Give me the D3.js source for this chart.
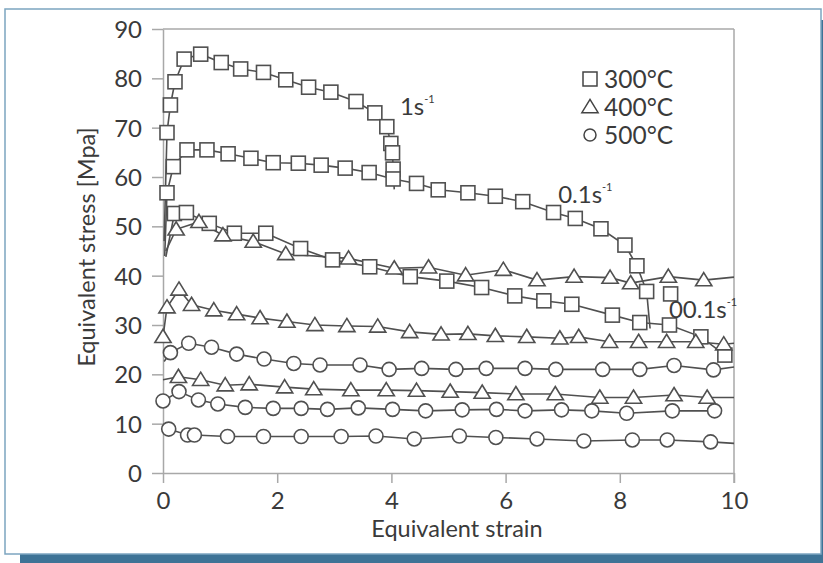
<!DOCTYPE html>
<html>
<head>
<meta charset="utf-8">
<script src="https://cdn.jsdelivr.net/npm/d3@7"></script>
<style>
  body { margin: 0; background: #fff; }
  text { font-family: Lato, "Open Sans", sans-serif; fill: #3a3a3a; }
</style>
</head>
<body>
<div id="chart"></div>
<script>
// data: [strain, stress, marker (1) or bare line point (0)]
var sq_1s = [[0.02,47,0],[0.07,69.0,1],[0.13,74.6,1],[0.21,79.3,1],[0.37,83.9,1],[0.66,84.9,1],[1.02,83.2,1],[1.36,81.9,1],[1.76,81.2,1],[2.15,79.7,1],[2.55,78.2,1],[2.94,77.2,1],[3.38,75.3,1],[3.71,73.0,1],[3.92,70.2,1],[3.99,66.8,1],[4.02,64.9,1],[4.03,61.6,1],[4.05,57.5,0]];
var sq_01s = [[0.03,44,0],[0.07,56.8,1],[0.18,62.1,1],[0.42,65.5,1],[0.77,65.5,1],[1.14,64.7,1],[1.54,63.8,1],[1.93,62.9,1],[2.37,62.8,1],[2.77,62.4,1],[3.19,61.8,1],[3.61,60.9,1],[4.03,59.6,1],[4.44,58.7,1],[4.82,57.4,1],[5.34,56.8,1],[5.82,56.1,1],[6.30,55.0,1],[6.84,52.8,1],[7.22,51.6,1],[7.67,49.5,1],[8.09,46.2,1],[8.30,42.0,1],[8.47,36.8,1],[8.53,29.3,0]];
var sq_001s = [[0.05,43.8,0],[0.2,52.6,1],[0.41,52.8,1],[0.81,50.6,1],[1.25,48.6,1],[1.8,48.6,1],[2.41,45.5,1],[2.97,43.2,1],[3.62,41.8,1],[4.33,39.8,1],[4.97,38.9,1],[5.58,37.6,1],[6.16,35.9,1],[6.67,34.9,1],[7.16,34.2,1],[7.87,32.0,1],[8.35,30.5,1],[8.87,30.0,1],[9.42,27.6,1],[9.84,23.9,1]];
var sq_stray = [[8.89,36.3,1]];

var tri_1s = [[0.05,45,0],[0.23,49.4,1],[0.63,50.9,1],[1.05,48.2,1],[1.58,46.9,1],[2.15,44.4,1],[3.25,43.5,1],[4.05,41.5,1],[4.65,41.7,1],[5.3,40.1,1],[5.96,41.2,1],[6.55,39.1,1],[7.2,39.8,1],[7.83,39.6,1],[8.19,38.5,1],[8.85,39.8,1],[9.47,39.1,1],[10.0,39.7,0]];
var tri_01s = [[0.0,27.6,1],[0.07,33.6,1],[0.28,37.2,1],[0.5,34.1,1],[0.89,33.0,1],[1.29,32.2,1],[1.7,31.4,1],[2.17,30.7,1],[2.66,30.0,1],[3.22,29.8,1],[3.76,29.7,1],[4.32,28.6,1],[4.87,28.1,1],[5.34,28.2,1],[5.82,27.8,1],[6.37,27.6,1],[6.95,27.3,1],[7.28,27.6,1],[7.82,26.6,1],[8.33,26.6,1],[8.82,26.6,1],[9.33,26.6,1],[9.82,26.1,1],[10.0,26.3,0]];
var tri_001s = [[0.0,18.9,0],[0.27,19.5,1],[0.66,18.9,1],[1.09,17.8,1],[1.51,18.0,1],[2.13,17.4,1],[2.64,17.0,1],[3.29,16.8,1],[3.91,16.8,1],[4.44,16.7,1],[5.03,16.5,1],[5.59,16.3,1],[6.18,16.0,1],[6.87,16.0,1],[7.65,15.3,1],[8.24,15.3,1],[8.95,15.8,1],[9.53,15.3,1],[10.0,15.3,0]];

var circ_1s = [[0.02,22.6,0],[0.13,24.4,1],[0.45,26.3,1],[0.85,25.5,1],[1.29,24.1,1],[1.77,23.1,1],[2.29,22.2,1],[2.75,21.9,1],[3.45,21.9,1],[3.96,21.0,1],[4.53,21.2,1],[5.13,21.0,1],[5.66,21.2,1],[6.34,21.2,1],[6.88,21.0,1],[7.7,21.0,1],[8.35,21.0,1],[8.95,21.8,1],[9.64,20.9,1],[10.0,21.5,0]];
var circ_01s = [[0.0,14.6,1],[0.28,16.5,1],[0.62,14.8,1],[0.96,14.0,1],[1.44,13.3,1],[1.93,13.1,1],[2.42,13.1,1],[2.88,12.9,1],[3.42,13.2,1],[4.02,12.9,1],[4.6,12.6,1],[5.24,12.8,1],[5.84,12.9,1],[6.34,12.6,1],[6.98,12.8,1],[7.51,12.6,1],[8.12,12.1,1],[8.92,12.6,1],[9.66,12.6,1]];
var circ_001s = [[0.0,9.3,0],[0.1,8.9,1],[0.43,7.7,1],[0.55,7.7,1],[1.13,7.4,1],[1.76,7.4,1],[2.42,7.4,1],[3.12,7.4,1],[3.73,7.5,1],[4.4,6.9,1],[5.19,7.5,1],[5.83,7.2,1],[6.55,6.9,1],[7.37,6.5,1],[8.22,6.7,1],[8.83,6.7,1],[9.59,6.3,1],[10.0,6.0,0]];

var xTicks = [0, 2, 4, 6, 8, 10];
var yTicks = [0, 10, 20, 30, 40, 50, 60, 70, 80, 90];
var legendLabels = ["300°C", "400°C", "500°C"];
var legendShapes = ["square", "triangle", "circle"];
var rateLabels = [["1s", 4.15, 72.6], ["0.1s", 6.92, 54.7], ["00.1s", 8.86, 31.4]];

var W = 823, H = 563;
var svg = d3.select("#chart").append("svg").attr("width", W).attr("height", H);

// frame with a drop shadow
svg.append("rect").attr("x", 20).attr("y", 20).attr("width", W - 20).attr("height", H - 20).attr("fill", "#3e7396");
svg.append("rect").attr("x", 5).attr("y", 9).attr("width", 816).attr("height", 545)
	.attr("fill", "#fff").attr("stroke", "#7ca5c0").attr("stroke-width", 1.5);

var x = d3.scaleLinear().domain([0, 10]).range([163, 734]);
var y = d3.scaleLinear().domain([0, 90]).range([473, 29]);
var axisCol = "#a8a8a8", lineCol = "#505050";

// y axis
var gy = svg.append("g").attr("transform", "translate(" + x(0) + ",0)")
	.call(d3.axisLeft(y).tickValues(yTicks).tickSize(11).tickSizeOuter(0).tickPadding(10));
// x axis
var gx = svg.append("g").attr("transform", "translate(0," + y(0) + ")")
	.call(d3.axisBottom(x).tickValues(xTicks).tickSize(10).tickSizeOuter(0).tickPadding(9));
[gx, gy].forEach(function(g) {
	g.selectAll("path, line").attr("stroke", axisCol).attr("stroke-width", 1.5);
	g.selectAll("text").style("font-size", "24px").attr("fill", "#3a3a3a");
});
gy.selectAll("text").attr("dy", "0.36em");
// box on top and right
svg.append("line").attr("x1", x(0)).attr("x2", x(10)).attr("y1", y(90)).attr("y2", y(90))
	.attr("stroke", axisCol).attr("stroke-width", 1.5);
svg.append("line").attr("x1", x(10)).attr("x2", x(10)).attr("y1", y(90)).attr("y2", y(0) + 10)
	.attr("stroke", axisCol).attr("stroke-width", 1.5);

// axis titles
svg.append("text").attr("transform", "translate(95,247) rotate(-90)")
	.attr("text-anchor", "middle").style("font-size", "23.5px").text("Equivalent stress [Mpa]");
svg.append("text").attr("x", 457).attr("y", 537)
	.attr("text-anchor", "middle").style("font-size", "23.5px").text("Equivalent strain");

// markers
function marker(g, shape, cx, cy, s) {
	if (shape == "square") {
		g.append("rect").attr("x", cx - s / 2).attr("y", cy - s / 2).attr("width", s).attr("height", s);
	} else if (shape == "triangle") {
		var h = s * 0.9;
		g.append("path").attr("d", "M" + cx + "," + (cy - h * 0.6) + "L" + (cx + s * 0.58) + "," + (cy + h * 0.45)
			+ "L" + (cx - s * 0.58) + "," + (cy + h * 0.45) + "Z");
	} else {
		g.append("circle").attr("cx", cx).attr("cy", cy).attr("r", s / 2);
	}
}

var line = d3.line().x(function(d) { return x(d[0]); }).y(function(d) { return y(d[1]); });
var series = [
	[sq_1s, "square"], [sq_01s, "square"], [sq_001s, "square"], [sq_stray, "square"],
	[tri_1s, "triangle"], [tri_01s, "triangle"], [tri_001s, "triangle"],
	[circ_1s, "circle"], [circ_01s, "circle"], [circ_001s, "circle"]
];
series.forEach(function(s) {
	if (s[0].length > 1)
		svg.append("path").datum(s[0]).attr("d", line)
			.attr("fill", "none").attr("stroke", lineCol).attr("stroke-width", 1.6);
});
series.forEach(function(s) {
	var g = svg.append("g").attr("fill", "#fff").attr("stroke", lineCol).attr("stroke-width", 1.6);
	s[0].filter(function(d) { return d[2]; }).forEach(function(d) {
		marker(g, s[1], x(d[0]), y(d[1]), 14);
	});
});

// strain-rate labels
rateLabels.forEach(function(r) {
	var t = svg.append("text").attr("x", x(r[1])).attr("y", y(r[2])).style("font-size", "24px");
	t.append("tspan").text(r[0]);
	t.append("tspan").attr("dy", -12).style("font-size", "11px").text("-1");
});

// legend
var lg = svg.append("g");
legendLabels.forEach(function(l, i) {
	var cy = 79 + i * 28;
	var g = lg.append("g").attr("fill", "#fff").attr("stroke", "#444").attr("stroke-width", 1.5);
	marker(g, legendShapes[i], 590, cy, legendShapes[i] == "circle" ? 12 : 14);
	lg.append("text").attr("x", 604).attr("y", cy + 8.5).style("font-size", "24.5px").text(l);
});
</script>
</body>
</html>
